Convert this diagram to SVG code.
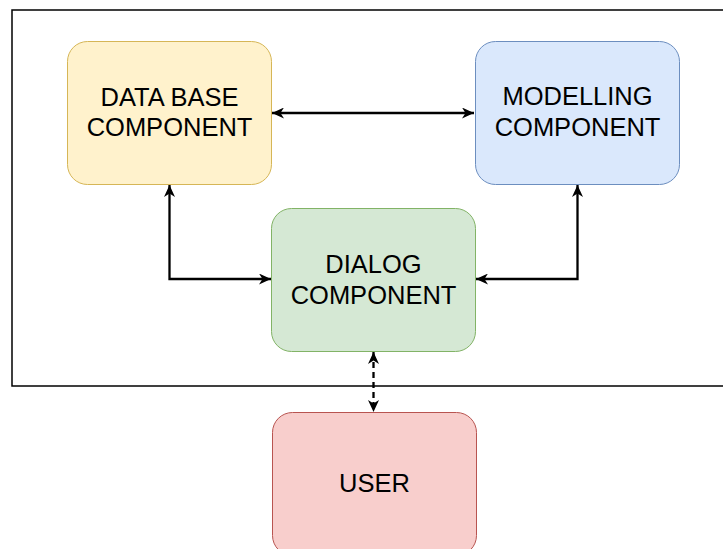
<svg xmlns="http://www.w3.org/2000/svg" width="723" height="549" viewBox="0 0 723 549">
<style>
.box{stroke-width:1}
.lbl{font-family:"Liberation Sans",Arial,Helvetica,sans-serif;font-size:25.5px;fill:#000;text-anchor:middle}
.con{fill:none;stroke:#000;stroke-width:2.3}
</style>
<defs>
<marker id="arr" viewBox="0 0 12 11" refX="12" refY="5.5" markerWidth="12" markerHeight="11" markerUnits="userSpaceOnUse" orient="auto-start-reverse">
<path d="M0,0 L12,5.5 L0,11 L3.5,5.5 Z" fill="#000"/>
</marker>
</defs>
<rect width="723" height="549" fill="#fff"/>
<rect id="frame" x="12" y="10" width="720" height="376" fill="none" stroke="#000" stroke-width="1.5"/>
<g id="database">
<rect class="box" x="67.5" y="41.5" width="204" height="143" rx="20" fill="#fff2cc" stroke="#d6b656"/>
<text class="lbl" x="169.5" y="106">DATA BASE</text>
<text class="lbl" x="169.5" y="136">COMPONENT</text>
</g>
<g id="modelling">
<rect class="box" x="475.5" y="41.5" width="204" height="143" rx="20" fill="#dae8fc" stroke="#6c8ebf"/>
<text class="lbl" x="577.5" y="105">MODELLING</text>
<text class="lbl" x="577.5" y="136">COMPONENT</text>
</g>
<g id="dialog">
<rect class="box" x="271.5" y="208.5" width="204" height="143" rx="20" fill="#d5e8d4" stroke="#82b366"/>
<text class="lbl" x="373.5" y="273">DIALOG</text>
<text class="lbl" x="373.5" y="303.5">COMPONENT</text>
</g>
<g id="user">
<rect class="box" x="272.5" y="412.5" width="204" height="143" rx="20" fill="#f8cecc" stroke="#b85450"/>
<text class="lbl" x="374.5" y="492">USER</text>
</g>
<g id="connectors">
<path class="con" d="M272,113 L474,113" marker-start="url(#arr)" marker-end="url(#arr)"/>
<path class="con" d="M169.5,185 L169.5,279 L271,279" marker-start="url(#arr)" marker-end="url(#arr)"/>
<path class="con" d="M577.5,185 L577.5,279 L476,279" marker-start="url(#arr)" marker-end="url(#arr)"/>
<path class="con" d="M373.5,352 L373.5,412" stroke-dasharray="6 4" marker-start="url(#arr)" marker-end="url(#arr)"/>
</g>
</svg>
